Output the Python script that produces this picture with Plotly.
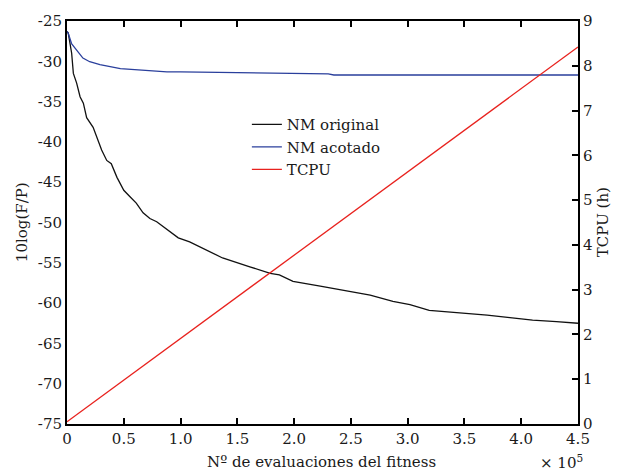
import plotly.graph_objects as go

# NM original (x in evaluations, y in dB)
nm_orig_x = [0, 1100, 4100, 5600, 8500, 11500, 14400, 17300, 23000, 26000, 30500, 35000, 39000,
             44000, 50000, 55500, 61000, 67000, 73000, 79000, 88000, 98000, 108000, 126000,
             137000, 161000, 179000, 187000, 199000, 223000, 243000, 267000, 287000, 302000,
             319000, 346000, 370000, 390000, 410000, 431000, 450000]
nm_orig_y = [-26.3, -26.5, -29.0, -31.5, -32.7, -34.4, -35.2, -37.0, -38.2, -39.4, -41.0, -42.3,
             -42.7, -44.4, -46.0, -46.8, -47.6, -48.8, -49.5, -49.9, -50.9, -51.9, -52.4, -53.6,
             -54.4, -55.5, -56.3, -56.5, -57.3, -57.9, -58.4, -59.0, -59.8, -60.2,
             -60.9, -61.2, -61.5, -61.8, -62.1, -62.3, -62.5]

# NM acotado
nm_acot_x = [0, 1000, 4000, 8500, 14000, 20000, 29000, 47000, 67000, 88000, 100000, 143000,
             205000, 230000, 235000, 300000, 450000]
nm_acot_y = [-26.3, -26.5, -27.8, -28.6, -29.6, -30.05, -30.4, -30.9, -31.1, -31.3, -31.3, -31.4,
             -31.5, -31.55, -31.7, -31.7, -31.7]

# TCPU (hours)
tcpu_x = [0, 50000, 100000, 150000, 200000, 250000, 300000, 350000, 400000, 450000]
tcpu_y = [0.05, 0.98, 1.91, 2.84, 3.77, 4.70, 5.63, 6.56, 7.49, 8.42]

x_tickvals = [0, 50000, 100000, 150000, 200000, 250000, 300000, 350000, 400000, 450000]
x_ticktext = ["0", "0.5", "1.0", "1.5", "2.0", "2.5", "3.0", "3.5", "4.0", "4.5"]
y1_ticks = [-75, -70, -65, -60, -55, -50, -45, -40, -35, -30, -25]
y1_ticktext = ["-75", "-70", "-65", "-60", "-55", "-50", "-45", "-40", "-35", "-30", "-25"]
y2_ticks = [0, 1, 2, 3, 4, 5, 6, 7, 8, 9]

FONT = "DejaVu Serif"
FS = 15
TXT = "#1a1a1a"
fig = go.Figure()
fig.add_trace(go.Scatter(x=nm_orig_x, y=nm_orig_y, mode="lines", name="NM original",
                         line=dict(color="#111111", width=1.3)))
fig.add_trace(go.Scatter(x=nm_acot_x, y=nm_acot_y, mode="lines", name="NM acotado",
                         line=dict(color="#2a3f9c", width=1.3)))
fig.add_trace(go.Scatter(x=tcpu_x, y=tcpu_y, mode="lines", name="TCPU", yaxis="y2",
                         line=dict(color="#e8221e", width=1.3)))

axis_common = dict(showgrid=False, zeroline=False, showline=True, linecolor="black",
                   linewidth=2, automargin=False,
                   tickfont=dict(family=FONT, size=FS, color=TXT))

fig.update_layout(
    width=620, height=472,
    margin=dict(l=67, r=42, t=21, b=48),
    paper_bgcolor="white", plot_bgcolor="white",
    font=dict(family=FONT, size=FS, color=TXT),
    showlegend=True,
    legend=dict(x=0.352, y=0.784, xanchor="left", yanchor="top",
                bgcolor="rgba(0,0,0,0)", borderwidth=0,
                font=dict(family=FONT, size=FS, color=TXT), tracegroupgap=0),
    xaxis=dict(range=[0, 450000], tickvals=x_tickvals, ticktext=x_ticktext,
               ticks="inside", ticklen=6, tickwidth=2, tickcolor="black", mirror="ticks",
               **axis_common),
    yaxis=dict(range=[-75, -25], tickvals=y1_ticks, ticktext=y1_ticktext, ticks="", mirror=False,
               **axis_common),
    yaxis2=dict(range=[0, 9], tickvals=y2_ticks, overlaying="y", side="right",
                ticks="inside", ticklen=6, tickwidth=2, tickcolor="black",
                **axis_common),
)

title_font = dict(family=FONT, size=FS, color=TXT)
fig.add_annotation(xref="paper", yref="paper", x=0.499, y=-0.094, xanchor="center",
                   yanchor="middle", showarrow=False, text="Nº de evaluaciones del fitness",
                   font=title_font)
fig.add_annotation(xref="paper", yref="paper", x=-0.088, y=0.501, xanchor="center",
                   yanchor="middle", showarrow=False, text="10log(F/P)", textangle=-90,
                   font=title_font)
fig.add_annotation(xref="paper", yref="paper", x=1.049, y=0.501, xanchor="center",
                   yanchor="middle", showarrow=False, text="TCPU (h)", textangle=-90,
                   font=title_font)
fig.add_annotation(xref="paper", yref="paper", x=1.014, y=-0.094, xanchor="right",
                   yanchor="middle", showarrow=False,
                   text="× 10<sup>5</sup>", font=title_font)

fig.write_html("out.html")
